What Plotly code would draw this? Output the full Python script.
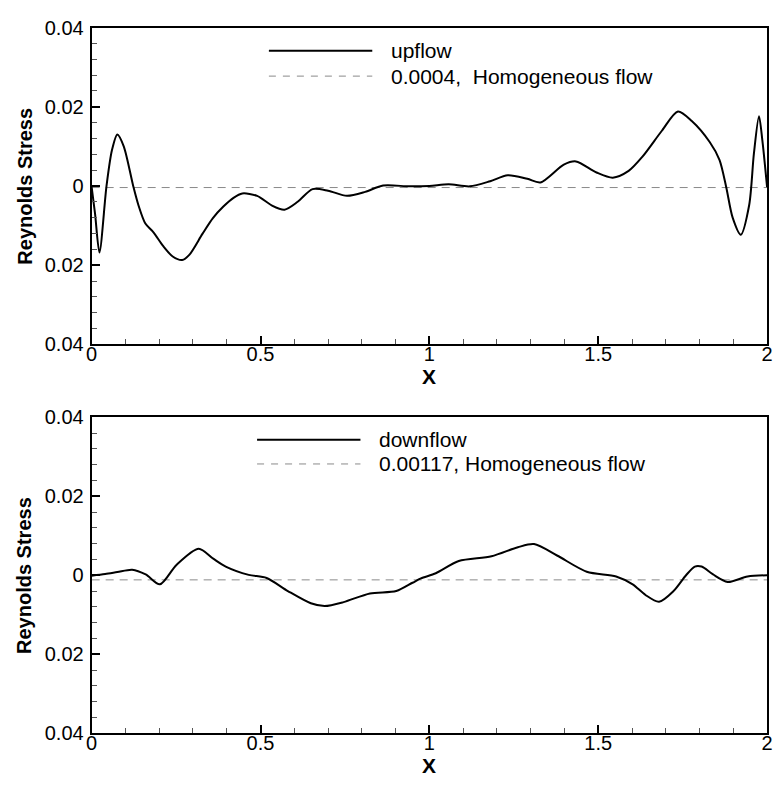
import plotly.graph_objects as go

# ---------------- data ----------------
x_up = [0.0, 0.010, 0.023, 0.044, 0.060, 0.076, 0.095, 0.123, 0.139, 0.159, 0.183,
        0.212, 0.240, 0.268, 0.289, 0.328, 0.359, 0.390, 0.420, 0.446, 0.490, 0.533,
        0.571, 0.610, 0.654, 0.700, 0.756, 0.810, 0.863, 0.941, 1.000, 1.057, 1.120,
        1.180, 1.232, 1.290, 1.329, 1.398, 1.434, 1.495, 1.543, 1.590, 1.631, 1.689,
        1.736, 1.777, 1.830, 1.859, 1.879, 1.898, 1.922, 1.947, 1.961, 1.976, 1.986, 2.0]
y_up = [-0.0003, -0.0070, -0.0168, 0.0000, 0.0090, 0.0130, 0.0100, 0.0000, -0.0050,
        -0.0095, -0.0117, -0.0152, -0.0178, -0.0187, -0.0174, -0.0121, -0.0081, -0.0052,
        -0.0030, -0.0019, -0.0025, -0.0049, -0.0060, -0.0040, -0.0008, -0.0012, -0.0025,
        -0.0015, 0.0001, -0.0001, 0.0000, 0.0004, -0.0001, 0.0012, 0.0027, 0.0018, 0.0009,
        0.0054, 0.0062, 0.0034, 0.0021, 0.0038, 0.0074, 0.0140, 0.0188, 0.0164, 0.0111,
        0.0066, -0.0003, -0.0080, -0.0123, -0.0048, 0.0082, 0.0176, 0.0115, -0.0003]

x_down = [0.0, 0.040, 0.076, 0.120, 0.160, 0.202, 0.251, 0.317, 0.360, 0.397, 0.465,
          0.518, 0.581, 0.649, 0.690, 0.746, 0.824, 0.902, 0.950, 0.975, 1.019, 1.087,
          1.184, 1.262, 1.310, 1.378, 1.466, 1.553, 1.602, 1.640, 1.680, 1.723, 1.760,
          1.786, 1.806, 1.840, 1.883, 1.942, 2.0]
y_down = [-0.0001, 0.0003, 0.0008, 0.0014, 0.0002, -0.0023, 0.0026, 0.0067, 0.0042,
          0.0022, 0.0001, -0.0007, -0.0040, -0.0071, -0.0078, -0.0068, -0.0046, -0.0040,
          -0.0019, -0.0008, 0.0005, 0.0036, 0.0048, 0.0071, 0.0079, 0.0050, 0.0009,
          -0.0003, -0.0023, -0.0050, -0.0067, -0.0040, 0.0000, 0.0022, 0.0022, 0.0002,
          -0.0017, -0.0003, 0.0000]

x_span = [0.0, 2.0]
homog_up = -0.0004
homog_down = -0.00117

y_tickvals = [-0.04, -0.02, 0.0, 0.02, 0.04]
y_ticktext = ["0.04", "0.02", "0", "0.02", "0.04"]
x_tickvals = [0, 0.5, 1, 1.5, 2]
x_ticktext = ["0", "0.5", "1", "1.5", "2"]

legend_up = ["upflow", "0.0004,&nbsp; Homogeneous flow"]
legend_down = ["downflow", "0.00117, Homogeneous flow"]

# ---------------- figure ----------------
W, H = 779, 786
FONT = "Liberation Sans, Arial, Helvetica, sans-serif"
px = lambda v: v / W
py = lambda v: 1 - v / H

fig = go.Figure()

fig.add_trace(go.Scatter(x=x_span, y=[homog_up, homog_up], mode="lines",
                         line=dict(color="#8a8a8a", width=1, dash="8px,6px"),
                         xaxis="x", yaxis="y", showlegend=False))
fig.add_trace(go.Scatter(x=x_up, y=y_up, mode="lines",
                         line=dict(color="black", width=2, shape="spline", smoothing=0.8),
                         xaxis="x", yaxis="y", showlegend=False))
fig.add_trace(go.Scatter(x=x_span, y=[homog_down, homog_down], mode="lines",
                         line=dict(color="#8a8a8a", width=1, dash="8px,6px"),
                         xaxis="x2", yaxis="y2", showlegend=False))
fig.add_trace(go.Scatter(x=x_down, y=y_down, mode="lines",
                         line=dict(color="black", width=2, shape="spline", smoothing=0.8),
                         xaxis="x2", yaxis="y2", showlegend=False))

# plot areas (pixels)
L, R = 87, 773
top_t, top_b = 17, 343
bot_t, bot_b = 418, 743

def xaxis(anchor):
    return dict(domain=[px(L), px(R)], range=[0, 2], anchor=anchor,
                tickvals=x_tickvals, ticktext=x_ticktext,
                ticks="inside", ticklen=8, tickwidth=2, tickcolor="black",
                minor=dict(dtick=0.1, tick0=0, ticks="inside", ticklen=5, tickwidth=1,
                           tickcolor="#555"),
                showline=True, linecolor="black", linewidth=2, mirror=True,
                showgrid=False, zeroline=False, ticklabelstandoff=-9,
                tickfont=dict(family=FONT, size=20, color="black"))

def yaxis(anchor, t, b):
    return dict(domain=[py(b), py(t)], range=[-0.04, 0.04], anchor=anchor,
                tickvals=y_tickvals, ticktext=y_ticktext,
                ticks="inside", ticklen=8, tickwidth=2, tickcolor="black",
                minor=dict(dtick=0.004, tick0=0, ticks="inside", ticklen=5, tickwidth=1,
                           tickcolor="#555"),
                showline=True, linecolor="black", linewidth=2, mirror=True,
                showgrid=False, zeroline=False, ticklabelstandoff=2,
                tickfont=dict(family=FONT, size=20, color="black"))

fig.update_layout(
    width=W, height=H,
    margin=dict(l=0, r=0, t=0, b=0),
    paper_bgcolor="white", plot_bgcolor="white",
    xaxis=xaxis("y"), yaxis=yaxis("x", top_t, top_b),
    xaxis2=xaxis("y2"), yaxis2=yaxis("x2", bot_t, bot_b),
    showlegend=False,
)

annots = []
shapes = []
for cy in [(top_t + top_b) / 2, (bot_t + bot_b) / 2]:
    annots.append(dict(text="<b>Reynolds Stress</b>", x=px(19), y=py(cy), xref="paper", yref="paper",
                       textangle=-90, showarrow=False, xanchor="center", yanchor="middle",
                       font=dict(family=FONT, size=20, color="black")))
for cy in [top_b + 33, bot_b + 33]:
    annots.append(dict(text="<b>X</b>", x=px(430), y=py(cy), xref="paper", yref="paper",
                       showarrow=False, xanchor="center", yanchor="middle",
                       font=dict(family=FONT, size=21, color="black")))

# legends (decoration)
for (lx0, lx1, tx, y1, y2, labels) in [(267, 372, 389, 41, 67, legend_up),
                                        (255, 360, 377, 441, 466, legend_down)]:
    shapes.append(dict(type="line", xref="paper", yref="paper", x0=px(lx0), x1=px(lx1),
                       y0=py(y1), y1=py(y1), line=dict(color="black", width=2)))
    shapes.append(dict(type="line", xref="paper", yref="paper", x0=px(lx0), x1=px(lx1),
                       y0=py(y2), y1=py(y2), line=dict(color="#8a8a8a", width=1, dash="7px,7px")))
    for lab, yy in zip(labels, [y1, y2]):
        annots.append(dict(text=lab, x=px(tx), y=py(yy), xref="paper", yref="paper",
                           showarrow=False, xanchor="left", yanchor="middle",
                           font=dict(family=FONT, size=21, color="black")))

fig.update_layout(annotations=annots, shapes=shapes)
fig.write_html("out.html")
